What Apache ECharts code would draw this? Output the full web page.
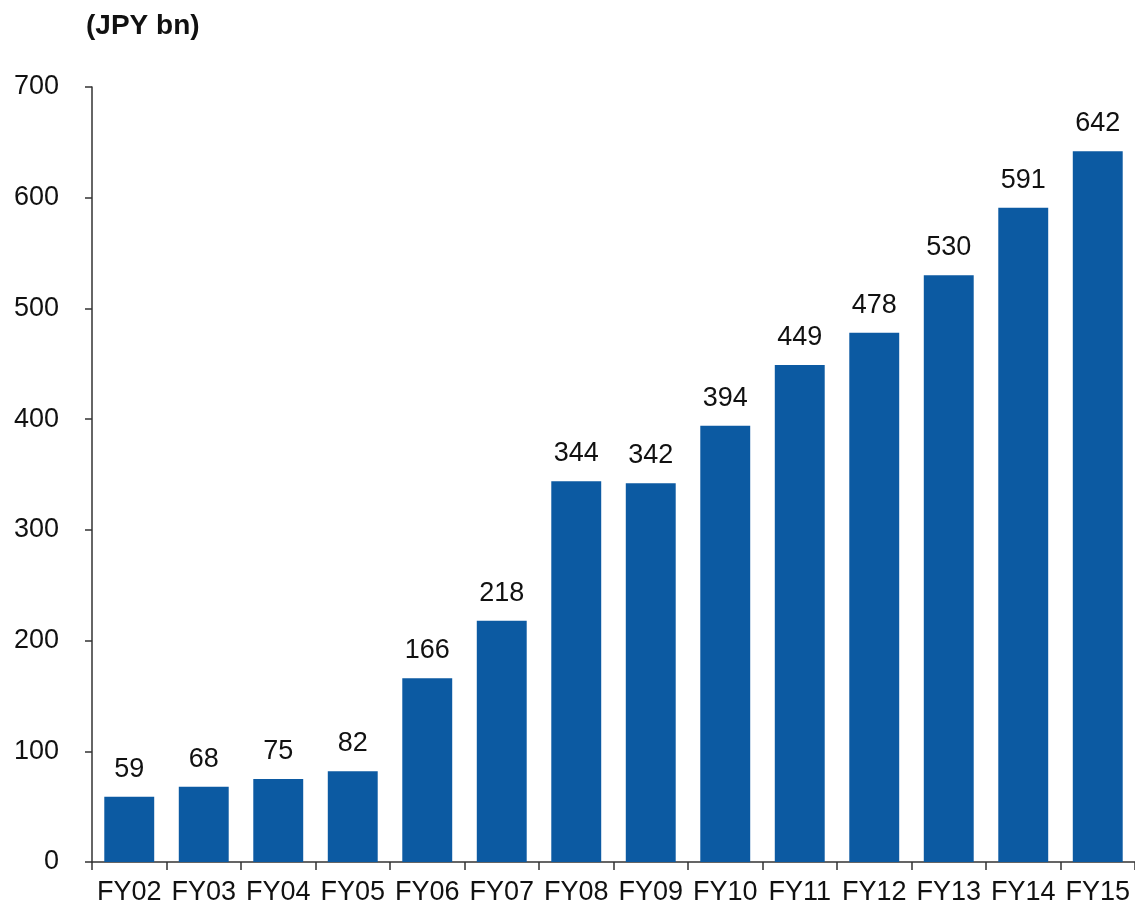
<!DOCTYPE html>
<html>
<head>
<meta charset="utf-8">
<script src="https://cdn.jsdelivr.net/npm/echarts@6/dist/echarts.min.js"></script>
<style>
  html, body { margin: 0; padding: 0; background: #fff; }
  #chart { width: 1135px; height: 908px; }
</style>
</head>
<body>
<div id="chart"></div>
<script>
// fiscal years and values (JPY bn)
const years = ['FY02', 'FY03', 'FY04', 'FY05', 'FY06', 'FY07', 'FY08', 'FY09', 'FY10', 'FY11', 'FY12', 'FY13', 'FY14', 'FY15'];
const values = [59, 68, 75, 82, 166, 218, 344, 342, 394, 449, 478, 530, 591, 642];

const chart = echarts.init(document.getElementById('chart'));
const font = 'Liberation Sans, Arial, sans-serif';

chart.setOption({
    animation: false,
    textStyle: { fontFamily: font },
    title: {
        text: '(JPY bn)',
        left: 81,
        top: 7,
        textStyle: { fontSize: 28, fontWeight: 'bold', color: '#111', fontFamily: font }
    },
    grid: { left: 92, top: 87, width: 1045, height: 775, containLabel: false },
    xAxis: {
        type: 'category',
        data: years,
        axisLine: { lineStyle: { color: '#333', width: 1.5 } },
        axisTick: { show: true, length: 8, alignWithLabel: false, lineStyle: { color: '#333', width: 1.5 } },
        axisLabel: { fontSize: 27, color: '#111', margin: 17, interval: 0 }
    },
    yAxis: {
        type: 'value',
        min: 0,
        max: 700,
        interval: 100,
        splitLine: { show: false },
        axisLine: { show: true, lineStyle: { color: '#333', width: 1.5 } },
        axisTick: { show: true, length: 7, lineStyle: { color: '#333', width: 1.5 } },
        axisLabel: { fontSize: 27, color: '#111', margin: 33 }
    },
    series: [{
        type: 'bar',
        data: values,
        barWidth: '67%',
        itemStyle: { color: '#0c5aa2' },
        label: {
            show: true,
            position: 'top',
            distance: 14,
            fontSize: 27,
            color: '#111'
        }
    }]
});
</script>
</body>
</html>
